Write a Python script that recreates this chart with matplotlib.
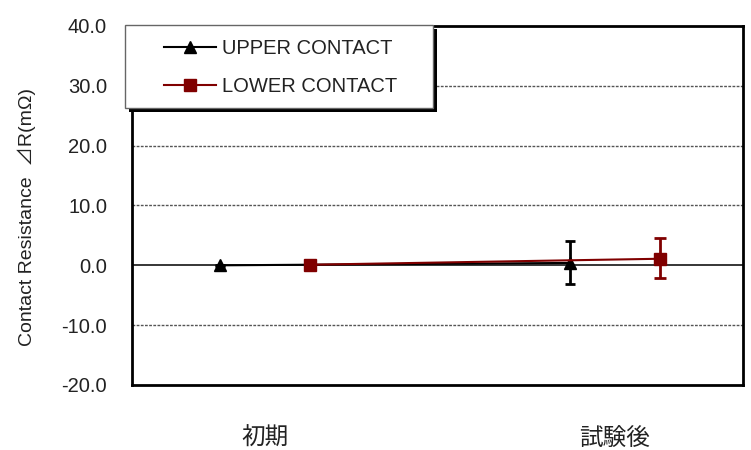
import numpy as np
import matplotlib.pyplot as plt
from matplotlib.patches import Rectangle
from matplotlib.lines import Line2D

# data
categories = ["初期", "試験後"]
upper_mean = [0.0, 0.4]
upper_err_lo = [0.1, 3.45]
upper_err_hi = [0.1, 3.65]
lower_mean = [0.1, 1.1]
lower_err_lo = [0.1, 3.15]
lower_err_hi = [0.1, 3.45]
yticks = [-20, -10, 0, 10, 20, 30, 40]

RED = "#800000"
LAT = ["Liberation Sans", "Noto Sans CJK JP"]
CJK = ["Noto Sans CJK JP", "DejaVu Sans"]

fig = plt.figure(figsize=(7.51, 4.5), dpi=100)
ax = fig.add_axes([132 / 751, 1 - 385 / 450, 611 / 751, 359 / 450])

x = np.arange(len(categories))
off = 0.129

for yv in yticks:
    if yv in (-20, 40):
        continue
    if yv == 0:
        ax.axhline(0, color="black", lw=1.1, zorder=1)
    else:
        ax.axhline(yv, color="#555555", lw=1.0, dashes=(2, 1), zorder=1)

ax.errorbar(x - off, upper_mean, yerr=[upper_err_lo, upper_err_hi], color="black",
            marker="^", markersize=9, lw=1.5, elinewidth=2, capsize=3.5, capthick=2,
            zorder=3)
ax.errorbar(x + off, lower_mean, yerr=[lower_err_lo, lower_err_hi], color=RED,
            marker="s", markersize=8, lw=1.5, elinewidth=2, capsize=4, capthick=2,
            zorder=4)

ax.set_xlim(-0.38, 1.366)
ax.set_ylim(-20, 40)
ax.set_yticks(yticks)
ax.set_yticklabels(["{:.1f}".format(v) for v in yticks], family=LAT, fontsize=14.5,
                   color="#222222")
ax.set_xticks(x)
ax.set_xticklabels(categories, family=CJK, fontsize=17, color="#222222")
ax.tick_params(axis="y", length=0, pad=18)
ax.tick_params(axis="x", length=0, pad=30)
for s in ax.spines.values():
    s.set_linewidth(2)
    s.set_color("black")

fig.text(27 / 751, 1 - 217 / 450, "Contact Resistance  ⊿R(mΩ)", rotation=90,
         ha="center", va="center", family=LAT, fontsize=14, color="#222222")

# legend box with shadow
lx, ly, lw_, lh = 125 / 751, 1 - 108 / 450, 308 / 751, 83 / 450
fig.add_artist(Rectangle((lx + 4 / 751, ly - 4 / 450), lw_, lh, transform=fig.transFigure,
                         facecolor="black", edgecolor="none", zorder=5))
fig.add_artist(Rectangle((lx, ly), lw_, lh, transform=fig.transFigure,
                         facecolor="white", edgecolor="#666666", lw=1, zorder=6))
handles = [Line2D([], [], color="black", marker="^", markersize=9, lw=1.5),
           Line2D([], [], color=RED, marker="s", markersize=8, lw=1.5)]
leg = fig.legend(handles, ["UPPER CONTACT", "LOWER CONTACT"], loc="upper left",
                 bbox_to_anchor=(150 / 751, 1 - 25 / 450), frameon=False,
                 prop={"family": LAT, "size": 14.5}, handlelength=2.6,
                 handletextpad=0.3, labelspacing=0.95, borderpad=0.2)
leg.set_zorder(7)
for t in leg.get_texts():
    t.set_color("#222222")

fig.savefig("out.png", dpi=100)
